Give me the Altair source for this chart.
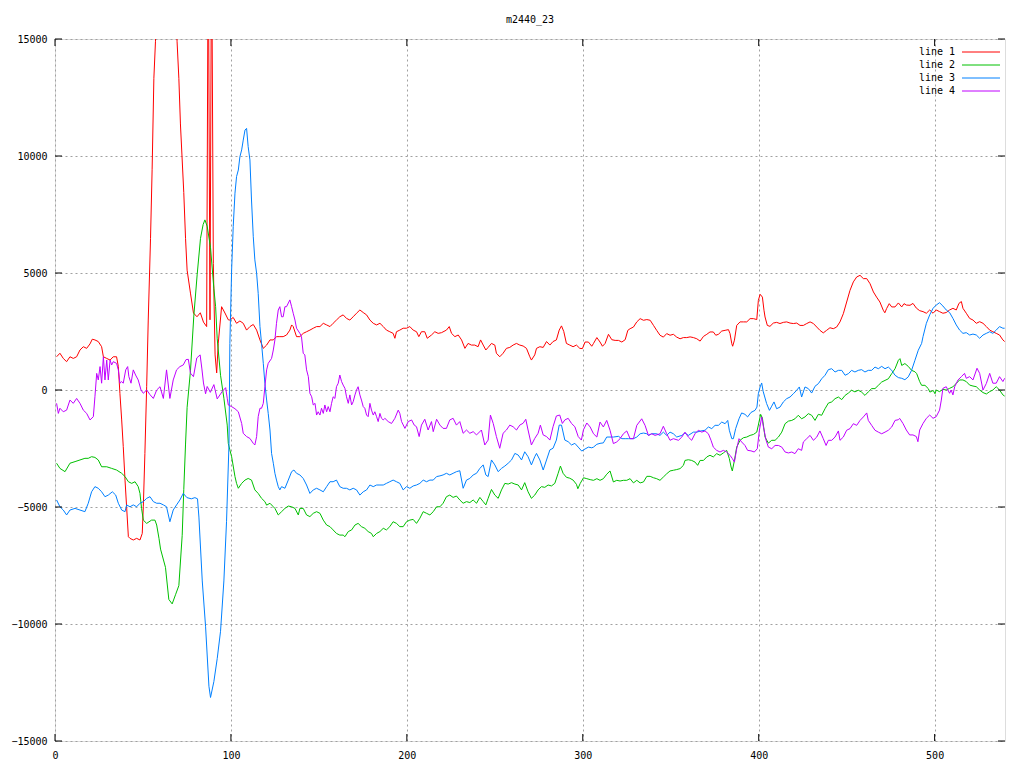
import altair as alt
import pandas as pd

series_names = ["line 1", "line 2", "line 3", "line 4"]
series_colors = ["#ff0000", "#00c000", "#0080ff", "#c000ff"]
x_ticks = [0, 100, 200, 300, 400, 500]
y_ticks = [-15000, -10000, -5000, 0, 5000, 10000, 15000]
chart_title = "m2440_23"

line1 = [(0.9,1420),(2.8,1570),(4.7,1350),(6.6,1210),(8.5,1420),(10.4,1350),(12.3,1420),(14.2,1710),(16.1,1850),(18.0,1780),
(19.9,1970),(21.2,2170),(22.7,2140),(24.6,2070),(26.5,1850),(27.5,1420),(29.4,1350),(31.3,1280),(33.1,1420),(35.0,1420),
(36.0,1000),(36.9,-140),(37.9,-1280),(38.8,-2420),(39.8,-3850),(40.7,-4990),(41.7,-6270),(42.6,-6340),(44.5,-6410),(46.4,-6340),
(48.3,-6410),(49.6,-6130),(50.2,-4990),(51.1,-2710),(52.1,140),(53.0,2990),(54.3,6480),(55.2,9410),(56.2,13320),(57.1,14880),
(58.5,18500),(61.0,23000),(64.0,25000),(67.0,20000),(69.4,14880),(70.4,13320),(71.3,11370),(73.2,8440),(74.2,6480),(75.1,5120),
(77.0,4140),(78.7,3290),(80.7,3130),(82.6,3300),(84.4,2900),(86.2,2710),(87.1,20000),(88.1,3000),(89.0,20000),(90.0,5400),
(91.0,1500),(91.9,730),(92.8,2000),(94.7,3560),(96.6,3290),(98.5,3000),(99.4,2990),(101.3,3100),(103.2,2850),(105.1,2950),
(107.0,2850),(108.9,2560),(110.8,2710),(112.7,2800),(114.6,2560),(116.5,2140),(118.4,1780),(120.3,1920),(122.2,2140),(124.1,2140),
(125.9,2280),(127.8,2280),(129.7,2280),(131.6,2350),(133.5,2560),(134.5,2780),(135.4,2710),(137.3,2280),(139.2,2280),(141.1,2420),
(143.0,2490),(144.9,2560),(146.8,2640),(148.7,2710),(150.6,2710),(152.5,2850),(154.4,2780),(156.3,2710),(158.1,2850),(160.0,2990),
(161.9,3130),(163.8,3210),(165.7,3060),(167.6,2990),(169.5,3130),(171.4,3280),(173.3,3420),(175.2,3310),(177.1,3210),(179.0,2990),
(180.9,2850),(182.8,2780),(184.7,2850),(186.6,2710),(188.4,2560),(190.3,2490),(192.2,2420),(193.2,2210),(194.1,2490),(196.0,2560),
(197.9,2640),(199.8,2640),(201.7,2710),(203.6,2560),(205.5,2490),(206.8,2280),(208.3,2490),(210.2,2490),(211.6,2210),(214.0,2350),
(215.9,2490),(217.8,2420),(219.7,2450),(222.5,2560),(224.1,2710),(225.4,2420),(227.3,2280),(229.2,2350),(231.1,2140),(233.0,1780),
(234.8,1990),(236.7,1920),(238.6,1920),(240.5,1850),(241.9,2140),(243.4,1920),(244.9,1710),(246.2,1820),(248.1,1990),(250.0,1920),
(250.9,1570),(252.8,1420),(254.7,1570),(256.6,1780),(258.5,1820),(260.4,1920),(262.3,1990),(264.2,1920),(266.1,1880),(268.0,1780),
(269.9,1420),(270.8,1280),(272.7,1500),(273.7,1780),(275.6,1850),(277.5,1820),(279.4,2070),(281.3,1920),(283.1,2070),(285.0,2140),
(286.6,2560),(287.9,2740),(289.2,2500),(290.7,1990),(292.6,1920),(294.5,1850),(296.4,1920),(298.3,1780),(299.8,1770),(301.3,2050),
(303.2,2050),(305.1,1870),(306.1,1990),(308.0,2240),(309.8,2050),(311.2,1870),(312.7,1990),(314.6,2380),(316.5,2150),(318.4,2120),
(320.3,2120),(322.2,2050),(324.1,2150),(325.6,2550),(326.9,2620),(328.8,2690),(330.7,2910),(332.6,3050),(334.5,2980),(336.4,3010),
(338.3,2980),(340.2,2760),(342.0,2550),(343.9,2340),(345.8,2260),(347.7,2410),(349.6,2340),(351.5,2380),(353.4,2260),(355.3,2190),
(357.2,2240),(359.1,2240),(361.0,2270),(362.9,2240),(364.8,2190),(366.7,2090),(368.6,2290),(370.5,2380),(372.3,2480),(374.2,2480),
(375.6,2340),(377.1,2380),(379.0,2520),(380.9,2550),(382.8,2580),(383.7,2410),(384.7,1980),(385.2,1870),(386.2,2130),(387.5,2760),
(389.4,2910),(391.3,2910),(393.2,2910),(395.1,3050),(397.0,3050),(398.9,3010),(399.8,3830),(400.8,4090),(402.1,3970),(403.0,3410),
(403.6,3120),(404.9,2760),(406.4,2720),(408.3,2860),(410.2,2890),(412.1,2840),(414.0,2890),(415.9,2910),(417.8,2860),(419.7,2840),
(421.6,2860),(423.5,2760),(425.4,2760),(427.3,2840),(429.2,2910),(431.1,2840),(433.0,2690),(434.8,2550),(436.7,2440),(438.6,2550),
(440.5,2660),(442.4,2620),(444.3,2690),(446.2,2910),(448.1,3260),(450.0,3760),(451.9,4260),(453.8,4620),(455.7,4830),(457.6,4900),
(459.5,4760),(461.4,4760),(463.3,4540),(465.2,4190),(467.0,3970),(468.9,3760),(470.8,3410),(471.7,3300),(472.7,3480),(474.2,3690),
(475.6,3550),(477.5,3550),(479.4,3720),(481.3,3550),(482.6,3690),(483.9,3630),(486.0,3620),(487.7,3700),(489.6,3500),(491.5,3390),
(493.4,3350),(495.3,3280),(497.2,3420),(499.1,3280),(500.9,3420),(502.8,3350),(504.7,3280),(506.6,3310),(508.5,3420),(510.4,3490),
(512.3,3420),(513.8,3700),(515.2,3780),(516.1,3490),(518.0,3280),(519.9,3060),(521.8,2990),(523.7,2850),(525.6,2920),(527.5,2850),
(529.4,2710),(531.3,2560),(533.1,2490),(535.0,2420),(536.9,2350),(538.8,2140),(539.8,2070)]

line2 = [(0.9,-3130),(2.8,-3350),(5.7,-3490),(8.5,-3130),(11.4,-3060),(14.2,-2990),(17.0,-2920),(18.9,-2920),(20.8,-2850),(22.7,-2880),
(24.6,-2990),(26.5,-3280),(29.4,-3280),(32.2,-3350),(35.0,-3420),(37.9,-3560),(39.8,-3700),(41.7,-3920),(43.6,-3990),(45.5,-3920),
(47.3,-4130),(48.3,-4420),(49.2,-5060),(50.2,-5560),(52.1,-5700),(54.9,-5560),(56.8,-5560),(57.8,-5770),(59.1,-6340),(60.0,-6800),
(62.8,-7580),(64.7,-8950),(66.6,-9140),(68.5,-8750),(70.4,-8360),(72.3,-6210),(73.2,-4260),(74.2,-2310),(75.1,-740),(77.0,820),
(78.9,3160),(80.8,4920),(82.7,6480),(84.2,7070),(85.2,7270),(86.5,7000),(88.4,6090),(90.3,4340),(91.3,3560),(92.2,2190),
(94.1,630),(96.0,-350),(97.9,-1500),(98.5,-2280),(99.4,-2560),(100.4,-2850),(102.3,-3700),(103.2,-3990),(104.2,-4200),(106.1,-3990),
(108.0,-3850),(109.8,-3780),(111.7,-3850),(113.6,-4270),(115.5,-4420),(117.4,-4630),(119.3,-4770),(120.3,-4920),(122.2,-4840),(124.1,-4990),
(125.0,-5060),(126.9,-5340),(128.8,-5200),(130.7,-5060),(132.6,-4960),(134.5,-4990),(136.4,-5060),(138.3,-5340),(139.2,-5060),(141.1,-5060),
(143.0,-5340),(144.9,-5410),(146.8,-5270),(148.7,-5200),(150.6,-5270),(152.5,-5560),(154.4,-5770),(156.3,-5840),(158.1,-5980),(160.0,-6130),
(161.9,-6200),(163.8,-6200),(164.8,-6270),(166.7,-6050),(168.6,-5980),(170.5,-5770),(172.3,-5700),(174.2,-5840),(176.1,-5910),(178.0,-6050),
(179.9,-6130),(180.9,-6270),(182.8,-6130),(184.7,-6050),(186.6,-5910),(188.4,-5980),(190.3,-5840),(192.2,-5630),(194.1,-5700),(196.0,-5840),
(197.9,-5840),(199.8,-5630),(201.7,-5560),(203.6,-5530),(205.5,-5700),(207.4,-5480),(209.3,-5200),(211.2,-5270),(213.1,-5340),(215.0,-5200),
(216.9,-4990),(218.8,-4990),(220.6,-4840),(222.5,-4560),(224.4,-4490),(226.3,-4590),(228.2,-4530),(230.1,-4700),(232.0,-4840),(233.9,-4770),
(235.8,-4810),(237.7,-4700),(239.6,-4840),(241.5,-4590),(243.4,-4770),(244.9,-4910),(246.2,-4630),(248.1,-4250),(250.0,-4490),(251.9,-4630),
(253.8,-4270),(255.7,-3990),(257.6,-4020),(259.5,-3960),(261.4,-4020),(263.3,-4060),(265.2,-4270),(267.0,-3960),(268.9,-4350),(270.8,-4630),
(272.7,-4490),(274.6,-4270),(276.5,-4130),(278.4,-4160),(280.3,-4060),(282.2,-4100),(284.1,-3990),(286.0,-3560),(287.3,-3250),(288.8,-3560),
(290.7,-3730),(292.6,-3770),(294.5,-3850),(296.4,-4030),(297.2,-4220),(298.5,-4000),(300.4,-3750),(302.3,-3790),(304.2,-3830),(306.1,-3860),
(308.0,-3790),(309.8,-3860),(311.7,-3790),(313.6,-3600),(315.5,-3460),(317.4,-3930),(319.3,-3860),(321.2,-3890),(323.1,-3860),(325.0,-3860),
(326.9,-3790),(328.8,-3970),(330.7,-3860),(332.6,-3970),(334.5,-3930),(336.4,-3690),(338.3,-3690),(340.2,-3750),(342.0,-3790),(343.9,-3860),
(345.8,-3720),(347.7,-3580),(349.6,-3460),(351.5,-3430),(353.4,-3400),(355.3,-3360),(357.2,-3220),(358.1,-3010),(360.0,-2980),(361.9,-3010),
(363.8,-3080),(365.3,-3220),(366.7,-3010),(368.6,-3010),(370.5,-2860),(372.3,-2790),(374.2,-2860),(376.1,-2720),(378.0,-2790),(379.9,-2690),
(381.8,-2580),(383.3,-2930),(384.3,-3290),(385.0,-3460),(386.2,-3010),(387.5,-2440),(389.4,-2150),(391.3,-2040),(393.2,-2010),(395.1,-1940),
(397.0,-1900),(398.9,-1800),(399.8,-1500),(401.1,-1040),(402.1,-1200),(403.6,-2010),(405.5,-2270),(407.4,-2150),(409.3,-2150),(411.2,-2010),
(413.1,-1800),(415.0,-1440),(416.9,-1330),(418.8,-1300),(420.6,-1230),(422.5,-1080),(424.4,-1230),(426.3,-1150),(428.2,-1010),(430.1,-1080),
(432.0,-1300),(433.9,-1040),(435.8,-1080),(437.7,-800),(439.6,-560),(441.5,-510),(443.4,-370),(445.3,-300),(447.2,-410),(449.1,-230),
(451.0,-130),(452.8,-10),(454.7,-80),(456.6,-10),(458.5,-90),(460.4,-230),(462.3,-80),(464.2,60),(466.1,60),(468.0,200),
(469.9,340),(471.8,410),(473.7,480),(475.6,700),(477.5,910),(479.4,1270),(480.3,1340),(481.3,1050),(483.1,1130),(485.0,1010),
(486.9,840),(488.8,780),(489.8,700),(491.5,360),(492.6,200),(494.5,200),(496.4,60),(497.3,-90),(499.2,-20),(500.2,-160),
(500.9,0),(502.8,-70),(504.7,30),(506.6,0),(508.5,70),(510.4,140),(512.3,280),(514.2,430),(516.1,430),(518.0,360),
(519.9,210),(521.8,170),(523.7,140),(525.6,0),(527.5,-110),(529.4,-170),(531.3,-70),(533.1,0),(535.0,140),(536.9,0),
(538.8,-210),(539.8,-260)]

line3 = [(0.9,-4700),(2.8,-4990),(4.7,-5130),(6.6,-5340),(8.5,-5130),(11.4,-5060),(14.2,-5130),(17.0,-5200),(18.9,-4840),(20.8,-4350),
(22.7,-4130),(24.6,-4200),(26.5,-4350),(28.4,-4560),(30.3,-4490),(32.6,-4350),(34.5,-4490),(36.0,-4840),(37.9,-5130),(39.8,-5200),
(40.7,-4910),(42.6,-4990),(44.5,-4910),(46.4,-4990),(48.3,-4840),(50.2,-4770),(52.1,-4630),(54.0,-4560),(55.9,-4770),(57.8,-4840),
(59.7,-4840),(61.6,-4910),(63.4,-4990),(65.3,-5630),(67.2,-5130),(69.1,-4910),(71.0,-4700),(72.9,-4420),(75.0,-4600),(77.5,-4650),
(79.5,-4600),(81.0,-4650),(81.8,-5430),(83.7,-8160),(85.6,-10120),(87.5,-12660),(88.4,-13140),(90.3,-12460),(92.2,-11480),(94.1,-10310),
(96.0,-8160),(97.5,-5630),(98.9,-2300),(99.4,1990),(100.4,5130),(101.3,6980),(102.3,8410),(103.2,9120),(104.2,9400),(105.1,9970),
(106.1,10260),(107.0,10680),(108.0,11110),(108.9,11180),(109.8,10400),(110.8,9830),(111.7,8120),(112.7,6550),(113.6,5560),(114.6,4990),
(115.5,4130),(116.5,2710),(117.4,1990),(118.4,1140),(119.3,290),(120.3,-430),(121.2,-1000),(122.2,-1710),(123.1,-2710),(124.1,-3130),
(125.0,-3560),(125.9,-3850),(126.9,-4130),(127.8,-4270),(128.8,-4130),(130.7,-4200),(132.6,-3850),(134.5,-3490),(135.8,-3420),(137.3,-3560),
(139.2,-3630),(141.1,-3780),(143.0,-4060),(144.9,-4420),(146.8,-4270),(148.7,-4200),(150.6,-4270),(152.5,-4350),(154.4,-4130),(156.3,-3920),
(158.1,-3920),(160.0,-3850),(161.9,-4130),(163.8,-4200),(165.7,-4200),(167.6,-4270),(169.5,-4200),(171.4,-4270),(173.3,-4490),(175.2,-4350),
(177.1,-4270),(179.0,-4060),(180.9,-4130),(182.8,-4060),(184.7,-4060),(186.6,-4060),(188.4,-3990),(190.3,-3920),(192.2,-3850),(194.1,-3920),
(196.0,-3990),(197.9,-4270),(199.8,-4130),(201.7,-4200),(203.6,-4100),(205.5,-4060),(207.4,-3990),(209.3,-3850),(211.2,-3920),(213.1,-3850),
(215.0,-3850),(216.9,-3700),(218.8,-3670),(220.6,-3630),(222.5,-3560),(224.4,-3630),(226.3,-3560),(228.2,-3490),(230.1,-3450),(232.0,-4200),
(233.9,-3850),(235.8,-3780),(237.7,-3630),(239.6,-3560),(241.5,-3350),(243.4,-3200),(244.9,-3630),(246.2,-3700),(248.1,-2990),(250.0,-3200),
(251.9,-3490),(253.8,-3350),(255.7,-3250),(257.6,-3130),(259.5,-2990),(261.4,-2710),(263.3,-2780),(265.2,-2990),(267.0,-2640),(268.9,-2850),
(270.8,-3200),(272.7,-2850),(273.7,-2710),(275.6,-2990),(277.5,-3420),(279.4,-2990),(281.3,-2560),(283.1,-2490),(285.0,-2140),(286.6,-1500),
(287.9,-1500),(289.8,-2140),(291.7,-2210),(293.6,-2350),(295.5,-2280),(297.4,-2440),(299.4,-2610),(301.3,-2520),(303.2,-2440),(305.1,-2470),
(306.1,-2440),(308.0,-2320),(309.8,-2280),(311.7,-2260),(313.6,-2010),(315.5,-2010),(317.4,-2010),(320.3,-1980),(322.2,-2080),(324.1,-2080),
(326.0,-2080),(328.8,-2080),(330.7,-2010),(332.6,-1870),(334.5,-1840),(336.4,-1870),(337.3,-1940),(339.2,-1870),(342.0,-1870),(343.9,-1940),
(345.8,-1800),(347.7,-1940),(349.6,-1800),(351.5,-1870),(353.4,-2010),(356.3,-1940),(358.1,-1840),(360.0,-1940),(362.9,-1800),(364.8,-1800),
(367.2,-1750),(369.5,-1720),(371.4,-1580),(373.3,-1650),(375.2,-1510),(377.1,-1510),(379.0,-1370),(380.9,-1440),(382.4,-1300),(383.3,-1720),
(384.7,-2080),(385.6,-2080),(386.9,-1650),(388.8,-1230),(390.3,-980),(392.2,-1040),(393.7,-1150),(395.6,-960),(397.9,-870),(399.0,-730),
(399.8,-160),(400.8,130),(401.7,300),(402.5,-50),(404.5,-580),(406.1,-870),(407.4,-690),(408.7,-510),(410.2,-800),(412.1,-730),
(414.0,-510),(415.9,-370),(417.8,-300),(419.7,-160),(421.6,-10),(423.1,130),(424.4,-300),(426.3,130),(428.2,60),(430.1,-130),
(432.0,160),(433.9,270),(435.8,480),(437.7,630),(439.6,870),(441.5,910),(443.4,770),(445.3,840),(447.2,840),(449.1,630),
(451.0,700),(452.8,840),(454.7,770),(456.6,840),(458.5,870),(460.4,770),(462.3,840),(464.2,840),(466.1,980),(468.0,910),
(469.9,1010),(471.8,910),(473.7,980),(475.6,840),(477.5,630),(479.4,530),(481.3,500),(483.1,440),(485.0,560),(486.9,840),
(488.8,1270),(490.7,1700),(492.6,1990),(493.4,2280),(495.3,2850),(497.2,3210),(499.1,3490),(500.9,3630),(502.8,3730),(504.7,3590),
(506.6,3420),(508.5,3310),(510.4,3060),(512.3,2780),(514.2,2560),(516.1,2420),(518.0,2450),(519.9,2350),(521.8,2390),(523.7,2350),
(525.6,2210),(527.5,2350),(529.4,2420),(531.3,2490),(533.1,2420),(535.0,2560),(536.9,2710),(538.8,2640),(539.8,2640)]

line4 = [(0.9,-570),(1.9,-1000),(2.8,-780),(4.7,-930),(6.6,-860),(8.5,-430),(10.4,-570),(12.3,-360),(14.2,-570),(16.1,-860),
(18.0,-1000),(19.9,-1280),(21.8,-1140),(22.7,-290),(23.7,710),(24.6,430),(25.6,1000),(26.5,290),(27.5,1420),(28.4,430),
(29.4,1280),(30.3,430),(31.3,1280),(32.2,1070),(33.1,1210),(35.0,1140),(36.0,860),(36.9,290),(37.9,360),(38.8,290),
(40.2,860),(41.3,1000),(42.0,570),(43.2,290),(44.5,860),(45.8,640),(47.3,430),(48.9,0),(50.2,-140),(52.1,0),
(54.0,-200),(55.9,-360),(57.8,0),(59.7,140),(61.6,-360),(63.4,860),(65.3,-360),(67.2,430),(69.1,860),(71.0,1000),
(72.9,1070),(74.5,1300),(75.8,1310),(77.0,720),(78.7,570),(80.6,1370),(82.5,1500),(83.5,900),(84.4,300),(85.6,-160),
(86.5,150),(88.3,-100),(90.3,230),(92.2,-380),(95.1,-60),(97.0,100),(97.9,-350),(98.5,-640),(100.4,-710),(102.3,-800),
(104.2,-930),(106.1,-1430),(107.0,-1850),(108.9,-1990),(110.8,-2070),(112.7,-2280),(113.6,-2350),(114.6,-1990),(115.5,-1140),(116.5,-780),
(117.4,-780),(118.4,-570),(119.3,140),(120.3,860),(121.2,1140),(123.1,1350),(124.1,1710),(125.0,2140),(125.9,2850),(126.9,3420),
(127.8,3560),(128.8,3130),(129.7,3130),(130.7,3560),(131.6,3560),(133.5,3850),(134.5,3560),(135.4,3280),(136.4,2990),(137.3,2640),
(139.2,2420),(140.1,2280),(141.1,1570),(142.0,1500),(143.0,860),(144.0,570),(144.9,-140),(145.9,-290),(146.8,-640),(147.8,-570),
(148.7,-1070),(149.6,-930),(150.6,-1070),(151.5,-780),(152.5,-1000),(153.4,-640),(154.4,-930),(155.3,-710),(156.3,-930),(157.2,-570),
(158.1,-290),(159.1,-360),(160.0,140),(161.0,290),(161.9,640),(162.9,360),(163.8,210),(164.8,70),(165.7,-290),(166.7,-570),
(167.6,-210),(168.6,-640),(169.5,-500),(170.5,-210),(171.4,0),(172.3,140),(173.3,-210),(174.2,-430),(175.2,-710),(176.1,-780),
(177.1,-1070),(178.0,-1140),(179.0,-570),(179.9,-860),(180.9,-1070),(181.8,-930),(182.8,-1140),(183.7,-1350),(184.7,-1000),(185.6,-1210),
(186.6,-1280),(187.5,-1210),(189.4,-1350),(191.3,-1430),(193.2,-1210),(195.1,-860),(196.0,-1000),(197.0,-1350),(198.9,-1640),(200.8,-1350),
(202.7,-1280),(204.2,-1500),(205.5,-1570),(207.0,-1990),(208.3,-1500),(210.2,-1250),(212.1,-1710),(214.0,-1350),(215.0,-1780),(216.9,-1250),
(218.8,-1500),(220.6,-1640),(222.5,-1640),(224.4,-1280),(226.3,-1210),(228.2,-1500),(230.1,-1350),(232.0,-1850),(233.9,-1710),(235.8,-1850),
(237.7,-1780),(239.6,-1920),(242.4,-1710),(244.3,-2350),(246.2,-2140),(247.5,-1070),(249.1,-1430),(250.9,-1990),(252.8,-2490),(254.7,-1850),
(256.6,-1710),(258.5,-1500),(260.4,-1570),(262.3,-1710),(264.2,-1500),(266.1,-1420),(267.6,-1250),(268.9,-1710),(270.8,-2350),(272.7,-2070),
(274.6,-1850),(275.9,-1500),(277.5,-1920),(279.4,-1990),(281.3,-2140),(283.1,-1570),(285.0,-1110),(286.9,-1070),(288.4,-1430),(289.8,-1280),
(291.7,-1210),(293.6,-1430),(295.5,-1570),(297.4,-1990),(299.2,-2140),(300.4,-1700),(302.3,-1410),(304.2,-1580),(306.1,-1870),(308.0,-2010),
(309.8,-1370),(311.7,-1580),(313.6,-1300),(315.5,-1720),(317.4,-2290),(319.3,-2220),(321.2,-2080),(323.1,-1870),(325.0,-1750),(326.9,-2080),
(328.8,-2080),(330.7,-1510),(333.5,-1230),(335.4,-1510),(337.3,-1940),(339.2,-1870),(341.1,-1940),(343.9,-1870),(345.8,-1550),(347.7,-1870),
(349.6,-2150),(351.5,-2080),(354.4,-2150),(356.3,-2010),(358.1,-1800),(360.0,-2010),(361.9,-2150),(363.8,-1870),(365.7,-1720),(367.6,-1800),
(369.5,-1750),(371.4,-1870),(372.9,-2150),(374.2,-2440),(376.1,-2580),(378.0,-2650),(379.9,-2580),(381.8,-2650),(383.7,-2790),(385.0,-2930),
(386.2,-3080),(387.5,-2510),(388.8,-2080),(390.3,-2220),(392.2,-2370),(393.7,-2580),(395.6,-2600),(397.5,-2650),(399.2,-2510),(400.4,-1720),
(401.7,-1150),(402.7,-1580),(404.2,-2150),(405.5,-2440),(407.4,-2510),(409.3,-2370),(411.2,-2370),(413.1,-2440),(415.0,-2650),(416.9,-2690),
(418.8,-2650),(420.6,-2720),(422.5,-2510),(424.4,-2580),(425.4,-2220),(427.3,-2080),(429.2,-1940),(431.1,-2150),(433.0,-2010),(434.8,-1750),
(436.7,-2080),(438.3,-2370),(439.6,-2150),(441.5,-2150),(443.4,-2010),(445.3,-1750),(446.2,-2150),(448.1,-2010),(450.0,-1720),(451.9,-1650),
(453.8,-1440),(455.7,-1510),(457.6,-1300),(459.5,-1150),(461.4,-980),(462.3,-1300),(464.2,-1510),(466.1,-1720),(468.0,-1800),(469.9,-1870),
(471.8,-1800),(473.7,-1720),(475.6,-1580),(477.5,-1300),(479.4,-1270),(480.1,-1210),(482.0,-1430),(483.9,-1710),(485.8,-1920),(487.7,-1920),
(489.6,-1990),(490.5,-2210),(491.5,-1710),(493.4,-1430),(495.3,-1210),(497.2,-1070),(499.1,-1210),(500.9,-1140),(502.8,-860),(503.8,-430),
(504.7,70),(506.6,140),(508.5,-140),(509.4,0),(510.4,-210),(511.4,140),(513.3,430),(515.2,570),(517.0,710),(518.0,500),
(519.9,570),(521.8,430),(524.1,930),(525.6,710),(527.5,0),(529.4,280),(531.3,710),(533.1,290),(535.0,290),(536.9,570),
(538.8,360),(539.8,500)]

rows = []
for name, pts in zip(series_names, [line1, line2, line3, line4]):
    for xv, yv in pts:
        rows.append({"series": name, "x": xv, "y": yv})
df = pd.DataFrame(rows)

FONT = "DejaVu Sans Mono"
W, H = 950, 702
TICK = 7
xscale = alt.Scale(domain=[0, 540], nice=False, zero=False)
yscale = alt.Scale(domain=[-15000, 15000], nice=False, zero=False)
color = alt.Color("series:N", scale=alt.Scale(domain=series_names, range=series_colors), legend=None)

common_axis = dict(grid=True, gridDash=[2, 3], gridColor="#a0a0a0", gridWidth=1,
                   ticks=False, domain=False, labelFont=FONT, labelFontSize=10,
                   labelColor="black", labelFlush=False, title=None, format="d")
x_axis = alt.Axis(values=x_ticks, labelPadding=9, **common_axis)
y_axis = alt.Axis(values=y_ticks, labelPadding=8, **common_axis)
X = alt.X("x:Q", scale=xscale, axis=x_axis)
Y = alt.Y("y:Q", scale=yscale, axis=y_axis)

lines = alt.Chart(df).mark_line(strokeWidth=1, clip=True).encode(x=X, y=Y, color=color)

xt = pd.DataFrame({"x": x_ticks})
yt = pd.DataFrame({"y": y_ticks})
tick_bottom = alt.Chart(xt).mark_rule(color="black", strokeWidth=1).encode(
    x=X, y=alt.value(H), y2=alt.value(H - TICK))
tick_top = alt.Chart(xt).mark_rule(color="black", strokeWidth=1).encode(
    x=X, y=alt.value(0), y2=alt.value(TICK))
tick_left = alt.Chart(yt).mark_rule(color="black", strokeWidth=1).encode(
    y=Y, x=alt.value(0), x2=alt.value(TICK))
tick_right = alt.Chart(yt).mark_rule(color="black", strokeWidth=1).encode(
    y=Y, x=alt.value(W - TICK), x2=alt.value(W))

main = alt.layer(lines, tick_bottom, tick_top, tick_left, tick_right)

leg = pd.DataFrame({"series": series_names})
ly = alt.Y("series:N", scale=alt.Scale(type="point", domain=series_names, range=[13, 52], padding=0), axis=None)
leg_text = alt.Chart(leg).mark_text(align="right", baseline="middle", font=FONT, fontSize=10, color="black").encode(
    y=ly, x=alt.value(900), text="series:N")
leg_rule = alt.Chart(leg).mark_rule(strokeWidth=1).encode(
    y=ly, x=alt.value(907), x2=alt.value(945), color=color)
legend = alt.layer(leg_text, leg_rule)

chart = alt.layer(main, legend).resolve_scale(
    y="independent"
).properties(
    width=W, height=H,
    title=alt.TitleParams(chart_title, font=FONT, fontSize=10, fontWeight="normal", color="black",
                          anchor="middle", offset=9),
    autosize=alt.AutoSizeParams(type="none"),
    padding={"left": 47, "top": 31, "right": 11, "bottom": 20},
).configure_view(stroke="black", strokeWidth=1).configure(background="white")

chart.save("out.html", embed_options={"renderer": "svg", "actions": False})
